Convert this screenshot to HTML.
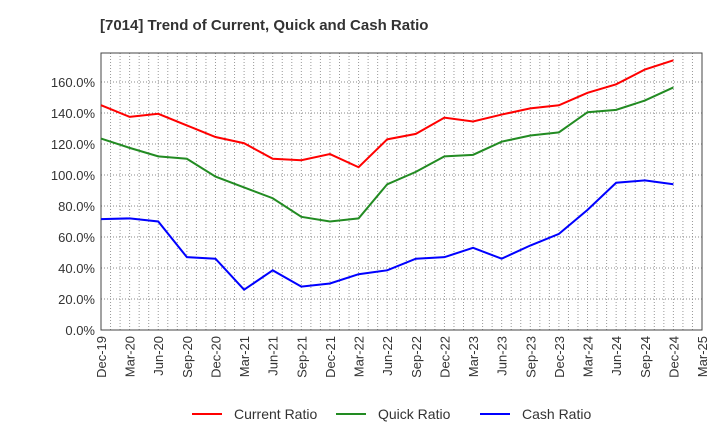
<!DOCTYPE html>
<html><head><meta charset="utf-8"><style>
body{margin:0;background:#fff;font-family:"Liberation Sans",sans-serif;}
</style></head><body>
<svg id="c" width="720" height="440" xmlns="http://www.w3.org/2000/svg">
<text x="100" y="30" font-size="15" font-weight="bold" fill="#333">[7014]  Trend of Current, Quick and Cash Ratio</text>
</svg>
<script>
const categories=["Dec-19","Mar-20","Jun-20","Sep-20","Dec-20","Mar-21","Jun-21","Sep-21","Dec-21","Mar-22","Jun-22","Sep-22","Dec-22","Mar-23","Jun-23","Sep-23","Dec-23","Mar-24","Jun-24","Sep-24","Dec-24","Mar-25"];
const currentRatio=[145,137.5,139.5,132,124.5,120.5,110.5,109.5,113.5,105,123,126.5,137,134.5,139,143,145,153,158.5,168,174];
const quickRatio=[123.5,117.5,112,110.5,99,92,85,73,70,72,94,102,112,113,121.5,125.5,127.5,140.5,142,148,156.5];
const cashRatio=[71.5,72,70,47,46,26,38.5,28,30,36,38.5,46,47,53,46,54.5,62,77.5,95,96.5,94];
const yTicks=[0,20,40,60,80,100,120,140,160];
const L=101,R=702,T=53,B=330,YMAX=178.7;
const svg=document.getElementById('c');const NS='http://www.w3.org/2000/svg';
const x=i=>L+(R-L)*i/(categories.length-1);
const y=v=>B-(B-T)*v/YMAX;
function mk(t,a){const e=document.createElementNS(NS,t);for(const k in a)e.setAttribute(k,a[k]);svg.appendChild(e);return e;}
// monthly vertical grid
for(let m=1;m<(categories.length-1)*3;m++){const xx=L+(R-L)*m/((categories.length-1)*3);
const g=mk('line',{x1:xx,x2:xx,y1:T,y2:B,stroke:'#999','stroke-dasharray':'1,2','stroke-width':1});

}
yTicks.forEach(v=>{if(v>0){const g=mk('line',{x1:L,x2:R,y1:y(v),y2:y(v),stroke:'#888','stroke-dasharray':'1,2','stroke-width':1});

}
const t=mk('text',{x:L-6,y:y(v)+5,'text-anchor':'end','font-size':13,fill:'#333'});t.textContent=v.toFixed(1)+'%';

});
categories.forEach((c,i)=>{const t=mk('text',{transform:`translate(${x(i)+5},${B+6}) rotate(-90)`,'text-anchor':'end','font-size':13,fill:'#333'});t.textContent=c;

});
const frame=mk('rect',{x:L,y:T,width:R-L,height:B-T,fill:'none',stroke:'#444','stroke-width':1});


[[currentRatio,'#ff0000','current-ratio-line'],[quickRatio,'#228b22','quick-ratio-line'],[cashRatio,'#0000ff','cash-ratio-line']].forEach(([d,col,n])=>{
const p=mk('polyline',{points:d.map((v,i)=>x(i)+','+y(v)).join(' '),fill:'none',stroke:col,'stroke-width':2});

});
[['Current Ratio','#ff0000',192],['Quick Ratio','#228b22',336],['Cash Ratio','#0000ff',480]].forEach(([lab,col,lx])=>{
const l=mk('line',{x1:lx,x2:lx+30,y1:414,y2:414,stroke:col,'stroke-width':2});


const t=mk('text',{x:lx+42,y:419,'font-size':14,fill:'#333'});t.textContent=lab;

});
</script>
</body></html>
